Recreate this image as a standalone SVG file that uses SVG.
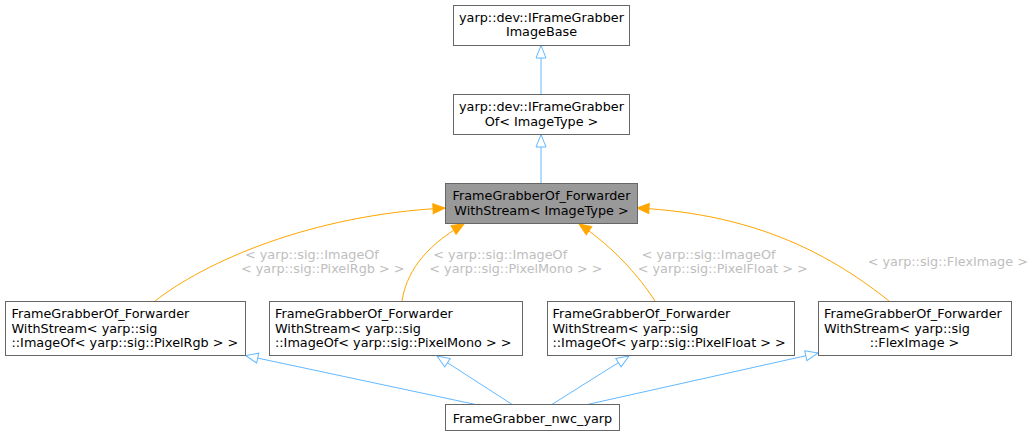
<svg xmlns="http://www.w3.org/2000/svg" width="1036" height="436" viewBox="0 0 1036 436">
<style>
  text { font-family: "DejaVu Sans", "Liberation Sans", sans-serif; font-size: 12.8px; fill: #000000; }
  .node rect { fill: #ffffff; stroke: #666666; stroke-width: 1; }
  .node.main rect { fill: #999999; }
  .c { text-anchor: middle; }
  .inh { fill: none; stroke: #63b8ff; stroke-width: 1; marker-end: url(#openArrow); }
  .tpl { fill: none; stroke: #ffa500; stroke-width: 1; marker-end: url(#fillArrow); }
  .lbl { fill: #bebebe; }
</style>
<defs>
  <marker id="openArrow" markerUnits="userSpaceOnUse" markerWidth="16" markerHeight="14" refX="13" refY="5.5" orient="auto" overflow="visible">
    <path d="M0.5,0.5 L13,5.5 L0.5,10.5 Z" fill="#ffffff" stroke="#63b8ff" stroke-width="1"/>
  </marker>
  <marker id="fillArrow" markerUnits="userSpaceOnUse" markerWidth="14" markerHeight="12" refX="12" refY="5" orient="auto" overflow="visible">
    <path d="M0,0 L12,5 L0,10 Z" fill="#ffa500" stroke="#ffa500" stroke-width="1"/>
  </marker>
</defs>
<rect x="0" y="0" width="1036" height="436" fill="#ffffff"/>

<g id="connectors">
  <path class="inh" d="M541,94 L541,45.5"/>
  <path class="inh" d="M541,183 L541,134.5"/>
  <path class="inh" d="M478,405 L245.5,355.5"/>
  <path class="inh" d="M513,405 L437,356"/>
  <path class="inh" d="M551,405 L629,356"/>
  <path class="inh" d="M585,405 L818,353"/>

  <path class="tpl" d="M155,301 C205,262 310,215 445,208"/>
  <path class="tpl" d="M402,301 C406,275 422,248 464,224"/>
  <path class="tpl" d="M655,301 C640,278 615,248 579,224"/>
  <path class="tpl" d="M889,301 C835,258 760,214 637,208"/>

  <text class="lbl" x="245" y="258.8">&lt; yarp::sig::ImageOf</text>
  <text class="lbl" x="241" y="272.8">&lt; yarp::sig::PixelRgb &gt; &gt;</text>
  <text class="lbl" x="433.3" y="258.8">&lt; yarp::sig::ImageOf</text>
  <text class="lbl" x="429.3" y="272.8">&lt; yarp::sig::PixelMono &gt; &gt;</text>
  <text class="lbl" x="641.7" y="258.8">&lt; yarp::sig::ImageOf</text>
  <text class="lbl" x="637.7" y="272.8">&lt; yarp::sig::PixelFloat &gt; &gt;</text>
  <text class="lbl" x="867.7" y="266">&lt; yarp::sig::FlexImage &gt;</text>
</g>

<g id="node_IFrameGrabberImageBase" class="node">
  <rect x="453.5" y="5.5" width="176" height="40"/>
  <text class="c" x="541.5" y="21.5">yarp::dev::IFrameGrabber</text>
  <text class="c" x="541.5" y="36">ImageBase</text>
</g>
<g id="node_IFrameGrabberOf" class="node">
  <rect x="453.5" y="94.5" width="176" height="40"/>
  <text class="c" x="541.5" y="111">yarp::dev::IFrameGrabber</text>
  <text class="c" x="541.5" y="125.5">Of&lt; ImageType &gt;</text>
</g>
<g id="node_FrameGrabberOf_ForwarderWithStream" class="node main">
  <rect x="445.5" y="183.5" width="192" height="40"/>
  <text class="c" x="541.5" y="199.5">FrameGrabberOf_Forwarder</text>
  <text class="c" x="541.5" y="214.5">WithStream&lt; ImageType &gt;</text>
</g>
<g id="node_PixelRgb" class="node">
  <rect x="5.5" y="301.5" width="240" height="54"/>
  <text x="11.5" y="318">FrameGrabberOf_Forwarder</text>
  <text x="11.5" y="332.5">WithStream&lt; yarp::sig</text>
  <text x="11.5" y="347">::ImageOf&lt; yarp::sig::PixelRgb &gt; &gt;</text>
</g>
<g id="node_PixelMono" class="node">
  <rect x="269.5" y="301.5" width="253" height="54"/>
  <text x="275" y="318">FrameGrabberOf_Forwarder</text>
  <text x="275" y="332.5">WithStream&lt; yarp::sig</text>
  <text x="275" y="347">::ImageOf&lt; yarp::sig::PixelMono &gt; &gt;</text>
</g>
<g id="node_PixelFloat" class="node">
  <rect x="547.5" y="301.5" width="247" height="54"/>
  <text x="552.5" y="318">FrameGrabberOf_Forwarder</text>
  <text x="552.5" y="332.5">WithStream&lt; yarp::sig</text>
  <text x="552.5" y="347">::ImageOf&lt; yarp::sig::PixelFloat &gt; &gt;</text>
</g>
<g id="node_FlexImage" class="node">
  <rect x="818.5" y="301.5" width="193" height="54"/>
  <text x="824" y="318">FrameGrabberOf_Forwarder</text>
  <text x="824" y="332.5">WithStream&lt; yarp::sig</text>
  <text class="c" x="914.5" y="347">::FlexImage &gt;</text>
</g>
<g id="node_FrameGrabber_nwc_yarp" class="node">
  <rect x="445.5" y="404.5" width="174" height="26"/>
  <text class="c" x="532.5" y="422.5">FrameGrabber_nwc_yarp</text>
</g>
</svg>
